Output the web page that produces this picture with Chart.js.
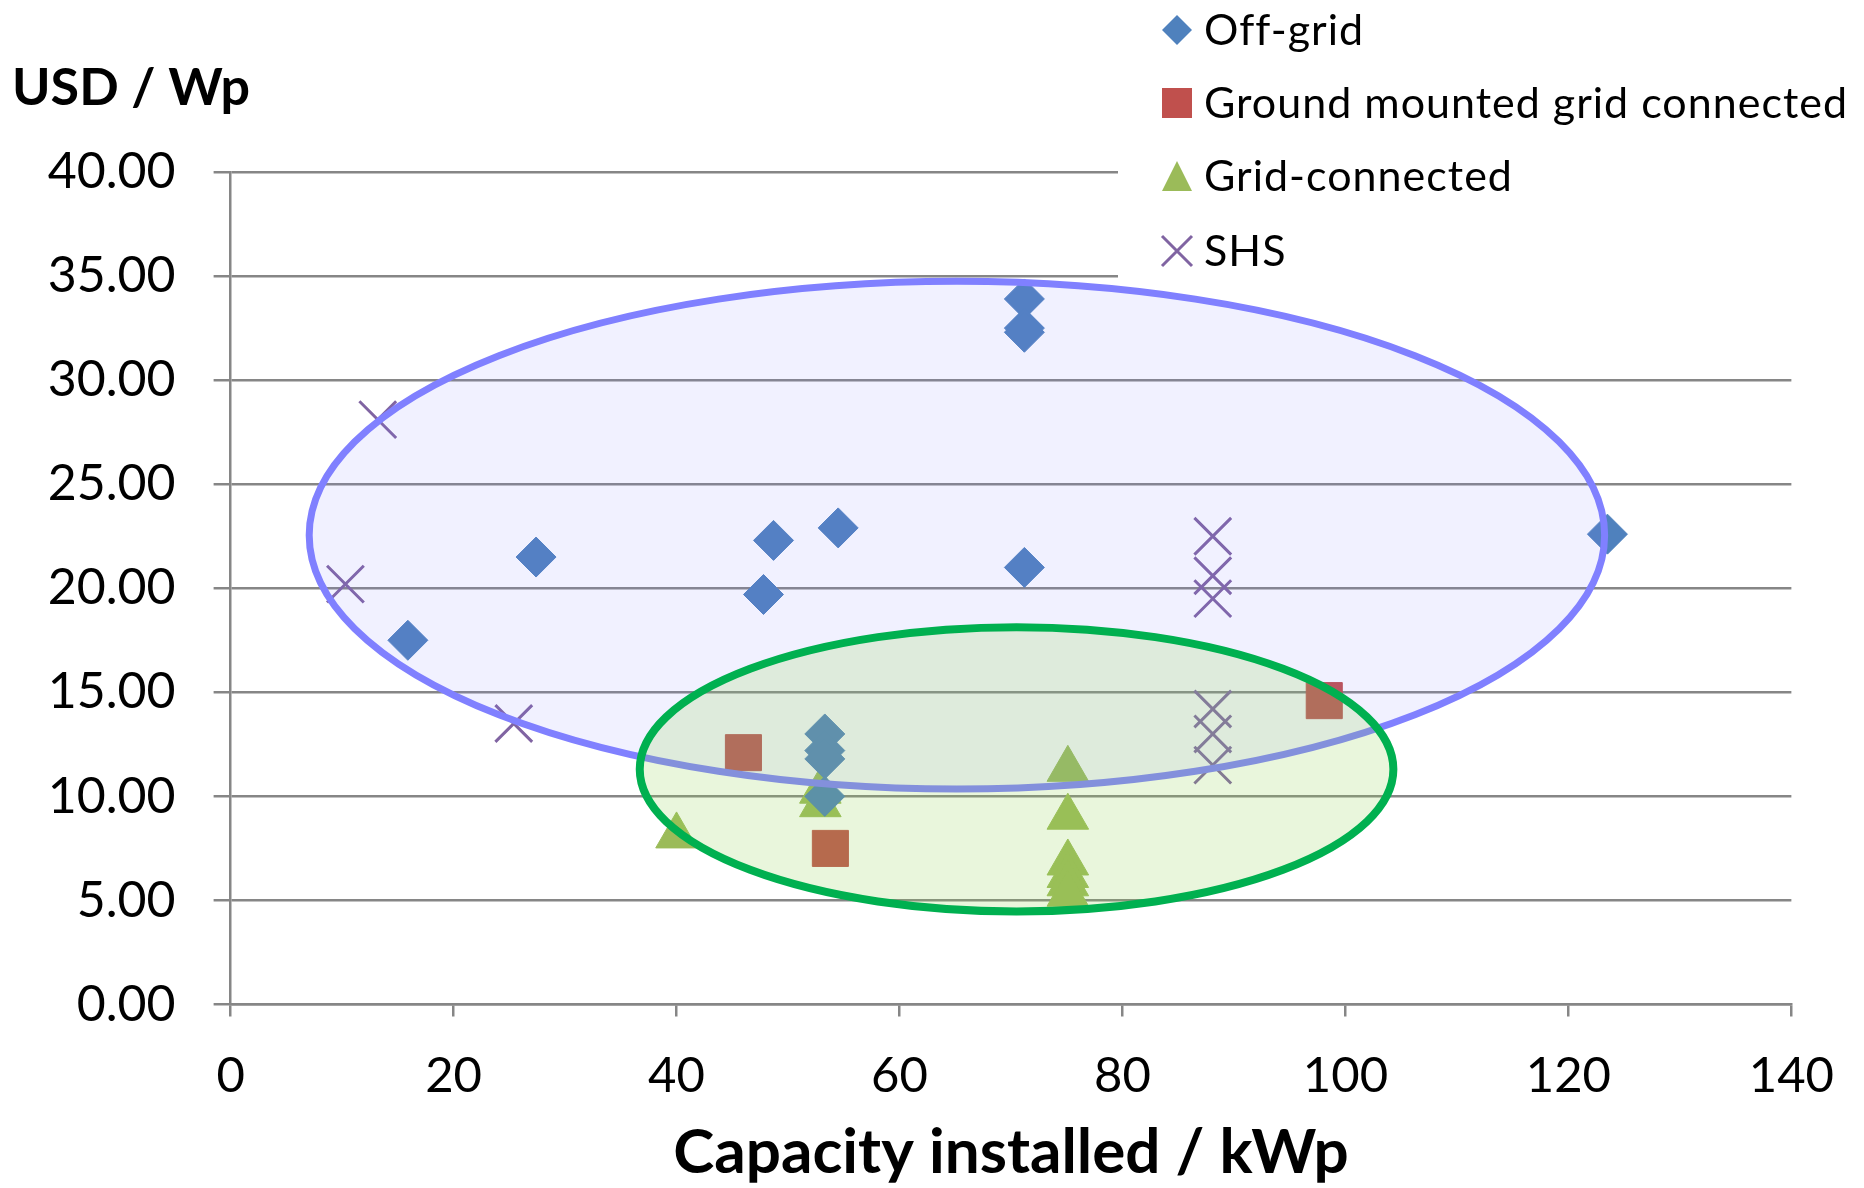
<!DOCTYPE html>
<html>
<head>
<meta charset="utf-8">
<script src="https://cdn.jsdelivr.net/npm/chart.js@4.4.0/dist/chart.umd.min.js"></script>
<style>
  html, body { margin: 0; padding: 0; background: #fff; }
</style>
</head>
<body>
<canvas id="chart-cost" width="1864" height="1188"></canvas>
<script>
// values (x = kWp, y = USD/Wp)
const offGridX = [15.9, 27.4, 47.8, 48.7, 54.5, 71.2, 71.2, 71.2, 71.2, 123.5, 53.3, 53.3, 53.3, 53.3]
const offGridY = [17.5, 21.5, 19.7, 22.3, 22.9, 33.9, 32.5, 32.3, 21.0, 22.6, 13.0, 12.2, 11.8, 10.0]
const groundX = [46.0, 53.8, 98.1]
const groundY = [12.1, 7.5, 14.6]
const gridX = [40.0, 52.9, 52.9, 75.1, 75.1, 75.1, 75.1, 75.1, 75.1]
const gridY = [8.1, 10.25, 9.6, 11.3, 9.0, 6.8, 6.2, 5.8, 5.3]
const shsX = [13.2, 10.3, 25.4, 88.1, 88.1, 88.1, 88.1, 88.1, 88.1]
const shsY = [28.1, 20.2, 13.5, 22.5, 20.6, 19.5, 14.2, 13.0, 11.5]

const seriesNames = ['Off-grid', 'Ground mounted grid connected', 'Grid-connected', 'SHS']
const xTitle = 'Capacity installed / kWp'
const yTitle = 'USD / Wp'

// highlight ellipses, in data units
const ellipseCx = [65.15, 70.5]
const ellipseCy = [22.55, 11.3]
const ellipseRx = [58.1, 33.8]
const ellipseRy = [12.2, 6.83]

const colors = ['#4f81bd', '#c0504d', '#9bbb59', '#8064a2']
const FONT = 'Lato, "Open Sans", sans-serif'

function toPoints(xs, ys){
  return xs.map((x, i) => ({x: x, y: ys[i]}))
}

const ellipsePlugin = {
  id: 'ellipses',
  afterDatasetsDraw(chart){
    const ctx = chart.ctx
    const sx = chart.scales.x, sy = chart.scales.y
    const strokes = ['#8080ff', '#00b050']
    const fills = ['rgba(128,128,255,0.11)', 'rgba(146,208,80,0.2)']
    const widths = [7, 8]
    for (let i = 0; i < ellipseCx.length; i++){
      const cx = sx.getPixelForValue(ellipseCx[i])
      const cy = sy.getPixelForValue(ellipseCy[i])
      const rx = Math.abs(sx.getPixelForValue(ellipseCx[i] + ellipseRx[i]) - cx)
      const ry = Math.abs(sy.getPixelForValue(ellipseCy[i] + ellipseRy[i]) - cy)
      ctx.save()
      ctx.beginPath()
      ctx.ellipse(cx, cy, rx, ry, 0, 0, 2 * Math.PI)
      ctx.fillStyle = fills[i]
      ctx.fill()
      ctx.lineWidth = widths[i]
      ctx.strokeStyle = strokes[i]
      ctx.stroke()
      ctx.restore()
    }
  }
}

function drawMarker(ctx, kind, x, y, s, color){
  ctx.save()
  ctx.fillStyle = color
  ctx.strokeStyle = color
  ctx.beginPath()
  if (kind == 0){
    ctx.moveTo(x, y - s); ctx.lineTo(x + s, y); ctx.lineTo(x, y + s); ctx.lineTo(x - s, y); ctx.closePath(); ctx.fill()
  }
  else if (kind == 1){
    ctx.rect(x - s, y - s, 2 * s, 2 * s); ctx.fill()
  }
  else if (kind == 2){
    ctx.moveTo(x, y - s); ctx.lineTo(x + s, y + s); ctx.lineTo(x - s, y + s); ctx.closePath(); ctx.fill()
  }
  else{
    ctx.lineWidth = 3
    ctx.moveTo(x - s, y - s); ctx.lineTo(x + s, y + s)
    ctx.moveTo(x + s, y - s); ctx.lineTo(x - s, y + s)
    ctx.stroke()
  }
  ctx.restore()
}

const legendPlugin = {
  id: 'boxLegend',
  afterDraw(chart){
    const ctx = chart.ctx
    ctx.save()
    // legend sits on a white box over the top right of the plot
    ctx.fillStyle = '#fff'
    ctx.fillRect(1118, 0, 746, 281)
    const rows = [30, 103, 176, 251]
    ctx.font = '43px ' + FONT
    ctx.letterSpacing = '1px'
    ctx.fillStyle = '#000'
    ctx.textBaseline = 'alphabetic'
    ctx.textAlign = 'left'
    seriesNames.forEach((name, i) => {
      drawMarker(ctx, i, 1177, rows[i], 15, colors[i])
      ctx.fillText(name, 1204, rows[i] + 15)
    })
    ctx.letterSpacing = '0px'
    // axis titles
    ctx.font = 'bold 52px ' + FONT
    ctx.fillText(yTitle, 12, 105)
    ctx.font = 'bold 62px ' + FONT
    ctx.textAlign = 'center'
    const area = chart.chartArea
    ctx.fillText(xTitle, (area.left + area.right) / 2, 1173)
    ctx.restore()
  }
}

var costCanvas = document.getElementById('chart-cost')

var costData = {
  datasets: [
    {label: seriesNames[0], data: toPoints(offGridX, offGridY), pointStyle: 'rectRot', pointRadius: 20,
     backgroundColor: colors[0], borderColor: colors[0], pointBorderWidth: 1},
    {label: seriesNames[1], data: toPoints(groundX, groundY), pointStyle: 'rect', pointRadius: 25.5,
     backgroundColor: colors[1], borderColor: colors[1], pointBorderWidth: 1},
    {label: seriesNames[2], data: toPoints(gridX, gridY), pointStyle: 'triangle', pointRadius: 24,
     backgroundColor: colors[2], borderColor: colors[2], pointBorderWidth: 1},
    {label: seriesNames[3], data: toPoints(shsX, shsY), pointStyle: 'crossRot', pointRadius: 26,
     backgroundColor: colors[3], borderColor: colors[3], pointBorderWidth: 3}
  ]
}

var chartOptions = {
  responsive: false,
  animation: false,
  events: [],
  layout: {padding: {top: 172, right: 71, left: 0, bottom: 0}},
  plugins: {legend: {display: false}, tooltip: {enabled: false}},
  scales: {
    x: {
      type: 'linear', min: 0, max: 140,
      ticks: {stepSize: 20, color: '#000', font: {family: FONT, size: 49}, padding: 30},
      grid: {drawOnChartArea: false, drawTicks: true, tickLength: 12, color: '#868686', lineWidth: 2.5},
      border: {display: true, color: '#868686', width: 2.5},
      afterFit: function(scale){ scale.height = 183.5 }
    },
    y: {
      type: 'linear', min: 0, max: 40,
      ticks: {stepSize: 5, color: '#000', font: {family: FONT, size: 50}, padding: 38,
              callback: function(v){ return v.toFixed(2) }},
      grid: {color: '#868686', lineWidth: 2.5, tickLength: 17},
      border: {display: true, color: '#868686', width: 2.5},
      afterFit: function(scale){ scale.width = 230.6 }
    }
  }
}

new Chart(costCanvas, {
  type: 'scatter',
  data: costData,
  options: chartOptions,
  plugins: [ellipsePlugin, legendPlugin]
})
</script>
</body>
</html>
